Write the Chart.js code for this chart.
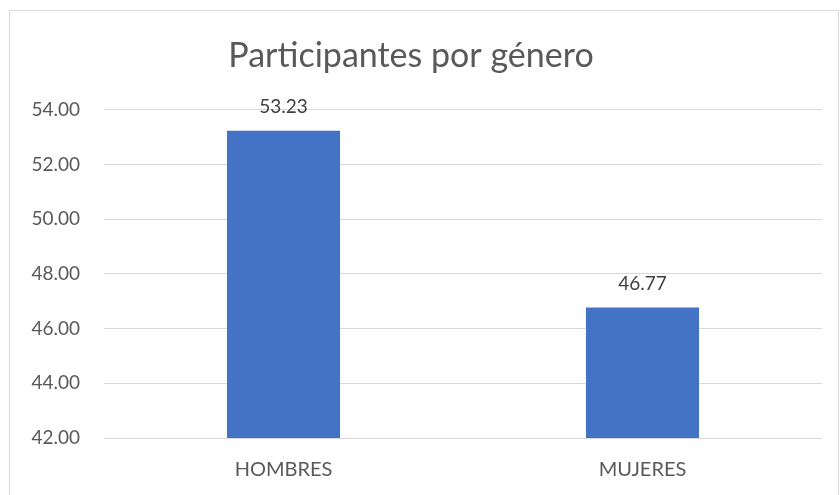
<!DOCTYPE html>
<html>
<head>
<meta charset="utf-8">
<script src="https://cdn.jsdelivr.net/npm/chart.js@4"></script>
<style>
  html, body { margin: 0; padding: 0; background: #fff; }
  #wrap { position: relative; width: 840px; height: 495px; overflow: hidden; }
  #frame { position: absolute; left: 9px; top: 10px; width: 828px; height: 500px; border: 1px solid #d9d9d9; pointer-events: none; }
</style>
</head>
<body>
<div id="wrap">
  <canvas id="genderChart" width="840" height="495"></canvas>
  <div id="frame"></div>
</div>
<script>
const categories = ['HOMBRES', 'MUJERES'];
const participantes = [53.23, 46.77];
const yTicks = [42, 44, 46, 48, 50, 52, 54];

const textColor = '#595959';
const fontFamily = 'Lato, "Open Sans", sans-serif';

// draws the value above each bar
const valueLabels = {
    id: 'valueLabels',
    afterDatasetsDraw(chart) {
        const ctx = chart.ctx;
        const meta = chart.getDatasetMeta(0);
        ctx.save();
        ctx.fillStyle = '#404040';
        ctx.font = '19px ' + fontFamily;
        ctx.textAlign = 'center';
        ctx.textBaseline = 'middle';
        meta.data.forEach((bar, i) => {
            ctx.fillText(participantes[i].toFixed(2), bar.x, bar.y - 24);
        });
        ctx.restore();
    }
};

new Chart(document.getElementById('genderChart'), {
    type: 'bar',
    data: {
        labels: categories,
        datasets: [{
            data: participantes,
            backgroundColor: '#4472C4',
            barPercentage: 0.315,
            categoryPercentage: 1
        }]
    },
    options: {
        responsive: false,
        animation: false,
        layout: { padding: { left: 0, right: 18, top: 0, bottom: 0 } },
        plugins: {
            legend: { display: false },
            tooltip: { enabled: false },
            title: {
                display: true,
                text: 'Participantes por género',
                color: textColor,
                font: { family: fontFamily, size: 34, weight: 'normal', lineHeight: 1.2 },
                padding: { top: 36, bottom: 33 }
            }
        },
        scales: {
            x: {
                grid: { display: false, drawTicks: false },
                border: { display: false },
                ticks: { color: textColor, font: { family: fontFamily, size: 20 }, padding: 20 },
                afterFit(scale) { scale.height = 57; }
            },
            y: {
                min: yTicks[0],
                max: yTicks[yTicks.length - 1],
                afterBuildTicks(scale) { scale.ticks = yTicks.map(v => ({ value: v })); },
                grid: { color: '#d9d9d9', lineWidth: 1, drawTicks: false },
                border: { display: false },
                ticks: {
                    color: textColor,
                    font: { family: fontFamily, size: 19 },
                    padding: 24,
                    callback: (v) => Number(v).toFixed(2)
                },
                afterFit(scale) { scale.width = 104; }
            }
        }
    },
    plugins: [valueLabels]
});
</script>
</body>
</html>
